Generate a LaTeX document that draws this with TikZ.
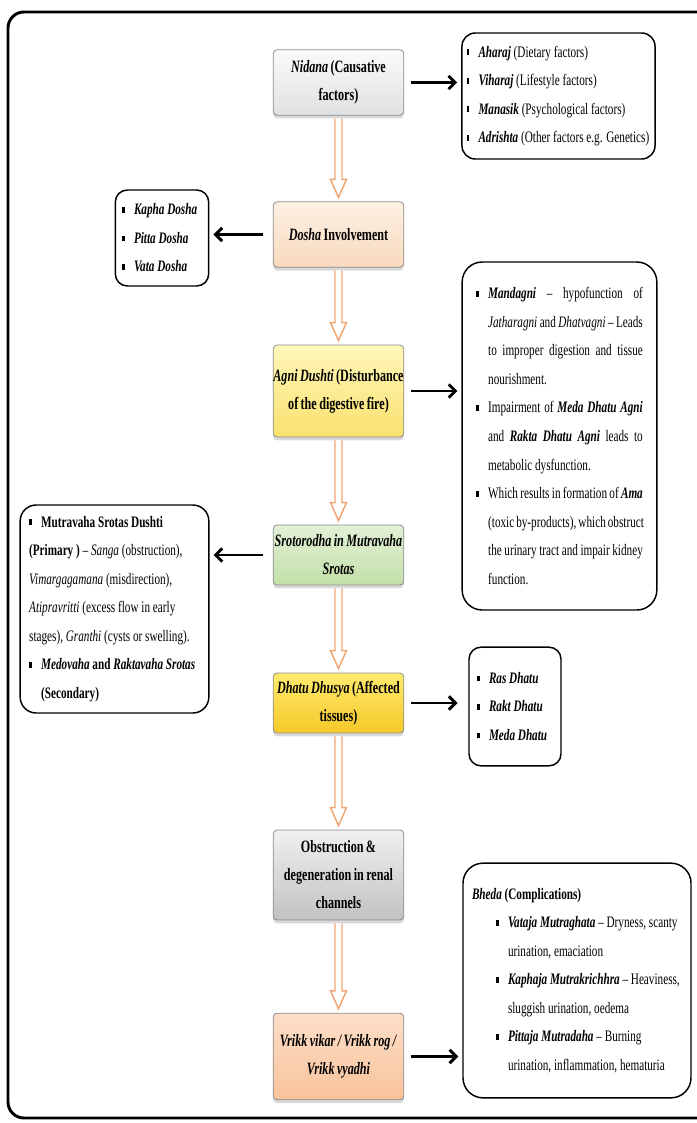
\documentclass[tikz,border=0pt]{standalone}
\usepackage{fontspec}
\setmainfont{Liberation Serif}[FakeStretch=0.7]
\usetikzlibrary{arrows.meta}
\usetikzlibrary{calc}
\usetikzlibrary{shadows}

\definecolor{arrowor}{RGB}{240,165,115}
\hyphenpenalty=10000
\exhyphenpenalty=10000

% fonts for the stages and the lists
\newcommand{\stagefont}{\fontsize{13}{21}\selectfont\bfseries\spaceskip=1.8pt plus 1pt minus 0.5pt\relax}
\newcommand{\listfont}{\fontsize{12}{21.4}\selectfont\spaceskip=2.1pt plus 1pt minus 0.6pt\relax}
% small square bullet and a justified line
\newcommand{\sqb}{\makebox[9pt][l]{\rule[1.5pt]{2pt}{4.3pt}}}
\newcommand{\jline}[1]{\makebox[116pt][s]{#1}}

\begin{document}
\begin{tikzpicture}[x=0.75pt, y=-0.75pt,
  stage/.style={draw=black!45, line width=0.6pt, rounded corners=3pt, minimum width=98pt, align=flush center, inner sep=0pt, font=\stagefont, drop shadow={shadow xshift=0pt, shadow yshift=-2.5pt, opacity=0.3}},
  listbox/.style={draw=black, line width=1.1pt, rounded corners=10pt, align=flush left, inner ysep=0pt, font=\listfont},
  pointer/.style={line width=2.2pt, -{Straight Barb[length=5pt, width=10pt]}, shorten <=5pt, shorten >=3pt},
  flow/.style={draw=arrowor, fill=white, line width=1.1pt, line join=miter}]
  \useasboundingbox (0,0) rectangle (696,1123);

  % Outer frame
  \draw[line width=2.2pt, rounded corners=12pt] (8,12) rectangle (720,1118);

  % Main stages
  \node[stage, top color=black!2, bottom color=black!12, minimum height=49pt] (nidana) at (338.5,82.5) {\textit{Nidana} (Causative\\factors)};
  \node[stage, top color={rgb,255:red,253;green,240;blue,228}, bottom color={rgb,255:red,248;green,218;blue,190}, minimum height=49pt] (dosha) at (338.5,234.5) {\textit{Dosha} Involvement};
  \node[stage, top color={rgb,255:red,255;green,247;blue,185}, bottom color={rgb,255:red,250;green,225;blue,110}, minimum height=69pt] (agni) at (338.5,391) {\textit{Agni Dushti} (Disturbance\\of the digestive fire)};
  \node[stage, top color={rgb,255:red,226;green,240;blue,214}, bottom color={rgb,255:red,195;green,224;blue,168}, minimum height=45pt] (sroto) at (338.5,555) {\textit{Srotorodha in Mutravaha}\\\textit{Srotas}};
  \node[stage, top color={rgb,255:red,255;green,235;blue,110}, bottom color={rgb,255:red,245;green,200;blue,40}, minimum height=45pt] (dhatu) at (338.5,703) {\textit{Dhatu Dhusya} (Affected\\tissues)};
  \node[stage, top color=black!6, bottom color=black!24, minimum height=67.5pt] (obstr) at (338.5,875) {Obstruction \&\\degeneration in renal\\channels};
  \node[stage, top color={rgb,255:red,253;green,222;blue,200}, bottom color={rgb,255:red,248;green,195;blue,155}, minimum height=65pt] (vrikk) at (338.5,1056.5) {\textit{Vrikk vikar / Vrikk rog /}\\\textit{Vrikk vyadhi}};

  % Side lists
  \node[listbox, text width=138pt, inner xsep=3.4pt, minimum height=94.5pt] (causes) at (558.5,96) {%
    \sqb\textbf{\textit{Aharaj}} (Dietary factors)\\
    \sqb\textbf{\textit{Viharaj}} (Lifestyle factors)\\
    \sqb\textbf{\textit{Manasik}} (Psychological factors)\\
    \sqb\textbf{\textit{Adrishta}} (Other factors e.g. Genetics)};
  \node[listbox, rounded corners=9pt, text width=60pt, inner xsep=5pt, minimum height=72pt] (doshas) at (162,238) {%
    \sqb\textbf{\textit{Kapha Dosha}}\\
    \sqb\textbf{\textit{Pitta Dosha}}\\
    \sqb\textbf{\textit{Vata Dosha}}};
  \node[listbox, rounded corners=15pt, text width=125pt, inner xsep=10.5pt, minimum height=261pt] (agnilist) at (559.5,436) {%
    \sqb\jline{\textbf{\textit{Mandagni}} -- hypofunction of}\\
    \hspace*{9pt}\jline{\textit{Jatharagni} and \textit{Dhatvagni} -- Leads}\\
    \hspace*{9pt}\jline{to improper digestion and tissue}\\
    \hspace*{9pt}nourishment.\\
    \sqb\jline{Impairment of \textbf{\textit{Meda Dhatu Agni}}}\\
    \hspace*{9pt}\jline{and \textbf{\textit{Rakta Dhatu Agni}} leads to}\\
    \hspace*{9pt}metabolic dysfunction.\\
    \sqb\jline{Which results in formation of \textbf{\textit{Ama}}}\\
    \hspace*{9pt}\jline{(toxic by-products), which obstruct}\\
    \hspace*{9pt}\jline{the urinary tract and impair kidney}\\
    \hspace*{9pt}function.};
  \node[listbox, rounded corners=12pt, text width=128pt, inner xsep=6.75pt, minimum height=156pt] (srotlist) at (114.5,609) {%
    \sqb\textbf{Mutravaha Srotas Dushti}\\
    \textbf{(Primary )} -- \textit{Sanga} (obstruction),\\
    \textit{Vimargagamana} (misdirection),\\
    \textit{Atipravritti} (excess flow in early\\
    stages), \textit{Granthi} (cysts or swelling).\\
    \sqb\textbf{\textit{Medovaha} and \textit{Raktavaha Srotas}}\\
    \hspace*{9pt}\textbf{(Secondary)}};
  \node[listbox, rounded corners=9pt, text width=57pt, inner xsep=6pt, minimum height=89pt] (dhatulist) at (515,706.5) {%
    \sqb\textbf{\textit{Ras Dhatu}}\\
    \sqb\textbf{\textit{Rakt Dhatu}}\\
    \sqb\textbf{\textit{Meda Dhatu}}};
  \node[listbox, rounded corners=15pt, text width=157.5pt, inner xsep=6.75pt, minimum height=176pt] (bhedalist) at (577,980.5) {%
    \textbf{\textit{Bheda} (Complications)}\\
    \hspace*{18pt}\sqb\textbf{\textit{Vataja Mutraghata}} -- Dryness, scanty\\
    \hspace*{27pt}urination, emaciation\\
    \hspace*{18pt}\sqb\textbf{\textit{Kaphaja Mutrakrichhra}} -- Heaviness,\\
    \hspace*{27pt}sluggish urination, oedema\\
    \hspace*{18pt}\sqb\textbf{\textit{Pittaja Mutradaha}} -- Burning\\
    \hspace*{27pt}urination, inflammation, hematuria};

  % Hollow arrows down the column
  \foreach \a/\b in {nidana/dosha, dosha/agni, agni/sroto, sroto/dhatu, dhatu/obstr, obstr/vrikk}
    \draw[flow] ($(\a.south)+(-3.5,3)$) -- ($(\b.north)+(-3.5,-22)$) -- ($(\b.north)+(-8,-22)$) -- ($(\b.north)+(0,-4)$) -- ($(\b.north)+(8,-22)$) -- ($(\b.north)+(3.5,-22)$) -- ($(\a.south)+(3.5,3)$);

  % Arrows out to the lists
  \draw[pointer] (nidana) -- (nidana -| causes.west);
  \draw[pointer, shorten <=7pt] (dosha) -- (dosha -| doshas.east);
  \draw[pointer] (agni) -- (agni -| agnilist.west);
  \draw[pointer, shorten <=7pt] (sroto) -- (sroto -| srotlist.east);
  \draw[pointer, shorten >=8pt] (dhatu) -- (dhatu -| dhatulist.west);
  \draw[pointer] (vrikk) -- (vrikk -| bhedalist.west);
\end{tikzpicture}
\end{document}
